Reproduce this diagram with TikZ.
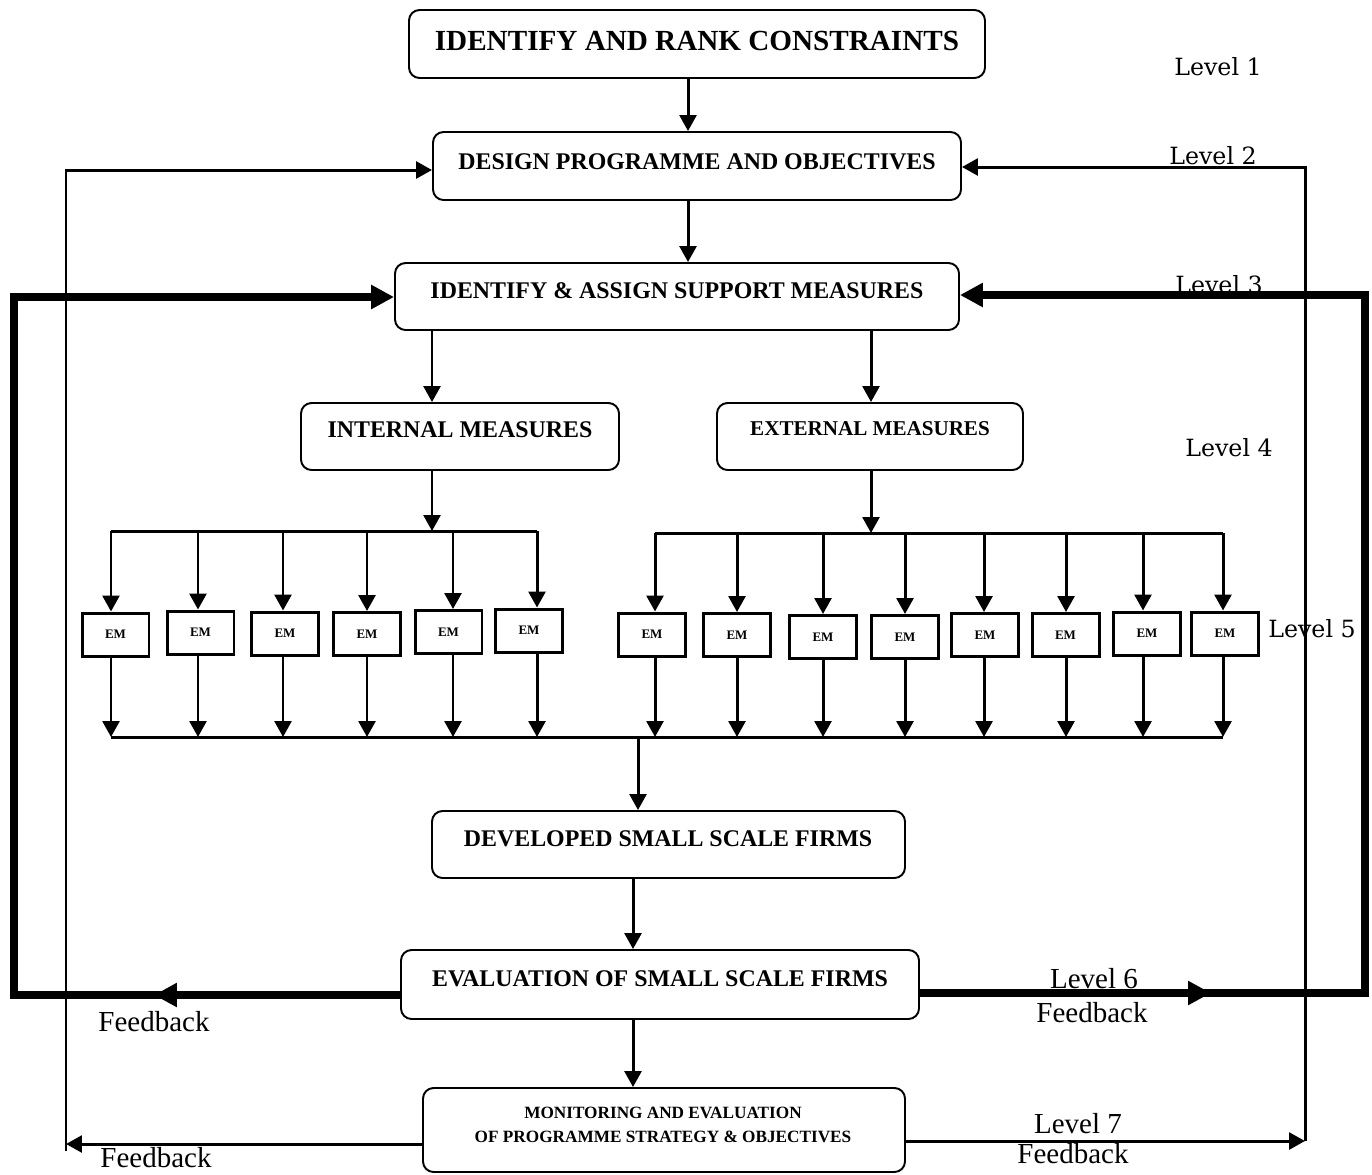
\documentclass[tikz,border=0pt]{standalone}
\usepackage{fontspec}
\setmainfont{Liberation Serif}
\newfontfamily\levelfont{DejaVu Serif}
\usetikzlibrary{arrows.meta,fit,decorations.markings}

\begin{document}
\begin{tikzpicture}[x=0.02cm, y=-0.02cm,
    rbox/.style={draw, line width=1.1pt, rounded corners=6pt, inner sep=0pt},
    embox/.style={draw, line width=1.7pt, minimum width=1.34cm, minimum height=0.86cm, inner sep=0pt, font=\bfseries\fontsize{7.4}{8}\selectfont},
    ttl/.style={anchor=base, font=\bfseries\fontsize{13.6}{16}\selectfont},
    lvl/.style={anchor=base, font=\levelfont\fontsize{13.5}{16}\selectfont},
    fbtxt/.style={anchor=base, font=\fontsize{16.5}{19}\selectfont},
    con/.style={line width=1.7pt, -{Triangle[length=9pt,width=9.5pt]}},
    fb/.style={line width=4.5pt, -{Triangle[length=13pt,width=13pt]}},
    ]
    \useasboundingbox (0,0) rectangle (1372,1174);

    % main boxes
    \node[rbox, fit={(409,10) (985,78)}] (b1) {};
    \node[ttl, font=\bfseries\fontsize{16.6}{20}\selectfont] (b1t) at (697,50) {IDENTIFY AND RANK CONSTRAINTS};
    \node[rbox, fit={(433,132) (961,200)}] (b2) {};
    \node[ttl] (b2t) at (697,169) {DESIGN PROGRAMME AND OBJECTIVES};
    \node[rbox, fit={(395,263) (959,330)}] (b3) {};
    \node[ttl] (b3t) at (677,298) {IDENTIFY \& ASSIGN SUPPORT MEASURES};
    \node[rbox, fit={(301,403) (619,470)}] (b4) {};
    \node[ttl] (b4t) at (460,437) {INTERNAL MEASURES};
    \node[rbox, fit={(717,403) (1023,470)}] (b5) {};
    \node[ttl, font=\bfseries\fontsize{12}{14}\selectfont] (b5t) at (870,435) {EXTERNAL MEASURES};
    \node[rbox, fit={(432,811) (905,878)}] (b6) {};
    \node[ttl] (b6t) at (668,846) {DEVELOPED SMALL SCALE FIRMS};
    \node[rbox, fit={(401,950) (919,1019)}] (b7) {};
    \node[ttl] (b7t) at (660,986) {EVALUATION OF SMALL SCALE FIRMS};
    \node[rbox, fit={(423,1088) (905,1172)}] (b8) {};
    \node[align=center, inner sep=0pt, font=\bfseries\fontsize{9.8}{13.6}\selectfont] (b8t) at (663,1125) {MONITORING AND EVALUATION\\OF PROGRAMME STRATEGY \& OBJECTIVES};

    % levels
    \node[lvl] (l1) at (1218,75) {Level 1};
    \node[lvl] (l2) at (1213,164) {Level 2};
    \node[lvl] (l3) at (1219,293) {Level 3};
    \node[lvl] (l4) at (1229,456) {Level 4};
    \node[lvl] (l5) at (1312,637) {Level 5};
    \node[fbtxt] (l6) at (1094,988) {Level 6};
    \node[fbtxt] (f6r) at (1092,1022) {Feedback};
    \node[fbtxt] (l7) at (1078,1133) {Level 7};
    \node[fbtxt] (f7r) at (1073,1163) {Feedback};
    \node[fbtxt] (f6l) at (154,1031) {Feedback};
    \node[fbtxt] (f7l) at (156,1167) {Feedback};

    % junctions
    \coordinate (c12) at (688,0);
    \coordinate (cm) at (633,0);
    \coordinate (ji) at (432,531);
    \coordinate (je) at (871,533);
    \coordinate (jd) at (638,737);

    \draw[con] (c12 |- b1.south) -- (c12 |- b2.north);
    \draw[con] (c12 |- b2.south) -- (c12 |- b3.north);
    \draw[con] (ji |- b3.south) -- (ji |- b4.north);
    \draw[con] (je |- b3.south) -- (je |- b5.north);
    \draw[con] (ji |- b4.south) -- (ji);
    \draw[con] (je |- b5.south) -- (je);
    \draw[con] (jd) -- (jd |- b6.north);
    \draw[con] (cm |- b6.south) -- (cm |- b7.north);
    \draw[con] (cm |- b7.south) -- (cm |- b8.north);

    % internal measures
    \foreach \i/\x/\y/\a in {1/115.5/634.5/111, 2/200.5/632.5/198, 3/285/633.5/283,
                             4/367/634/367, 5/448.5/632/453, 6/529/630.5/537} {
        \node[embox] (ei\i) at (\x,\y) {EM};
        \coordinate (ti\i) at (\a,531);
        \coordinate (bi\i) at (\a,737);
        \draw[con] (ti\i) -- (ti\i |- ei\i.north);
        \draw[con] (bi\i |- ei\i.south) -- (bi\i);
    }
    % external measures
    \foreach \i/\x/\y/\a in {1/652/634.5/655, 2/737/635/737, 3/823/637/823, 4/905/637/905,
                             5/985/635/984, 6/1065.5/635/1066, 7/1147/633.5/1143, 8/1225/633.5/1223} {
        \node[embox] (ee\i) at (\x,\y) {EM};
        \coordinate (te\i) at (\a,533);
        \coordinate (be\i) at (\a,737);
        \draw[con] (te\i) -- (te\i |- ee\i.north);
        \draw[con] (be\i |- ee\i.south) -- (be\i);
    }
    \draw[line width=1.7pt] (ti1) -- (ti6);
    \draw[line width=1.7pt] (te1) -- (te8);
    \draw[line width=1.7pt] (bi1) -- (be8);

    % feedback, level 7
    \coordinate (lb) at (66,1144);
    \coordinate (lbe) at (66,1151);
    \coordinate (lt) at (66,170);
    \coordinate (rb) at (1305,1141);
    \coordinate (rt) at (1305,167);
    \draw[con] (b8.west |- lb) -- (lb);
    \draw[con] (lbe) -- (lt) -- (b2.west |- lt);
    \draw[con] (b8.east |- rb) -- (rb);
    \draw[con] (rb) -- (rt) -- (b2.east |- rt);

    % feedback, level 6
    \coordinate (fl) at (14,995);
    \coordinate (flt) at (14,297);
    \coordinate (fr) at (1365,993);
    \coordinate (frt) at (1365,295);
    \draw[fb, postaction={decorate}, decoration={markings,
        mark=at position 4.92cm with {\arrow{Triangle[length=13pt,width=13pt]}}}]
        (b7.west |- fl) -- (fl) -- (flt) -- (b3.west |- flt);
    \draw[fb, postaction={decorate}, decoration={markings,
        mark=at position 5.82cm with {\arrow{Triangle[length=13pt,width=13pt]}}}]
        (b7.east |- fr) -- (fr) -- (frt) -- (b3.east |- frt);
\end{tikzpicture}
\end{document}
